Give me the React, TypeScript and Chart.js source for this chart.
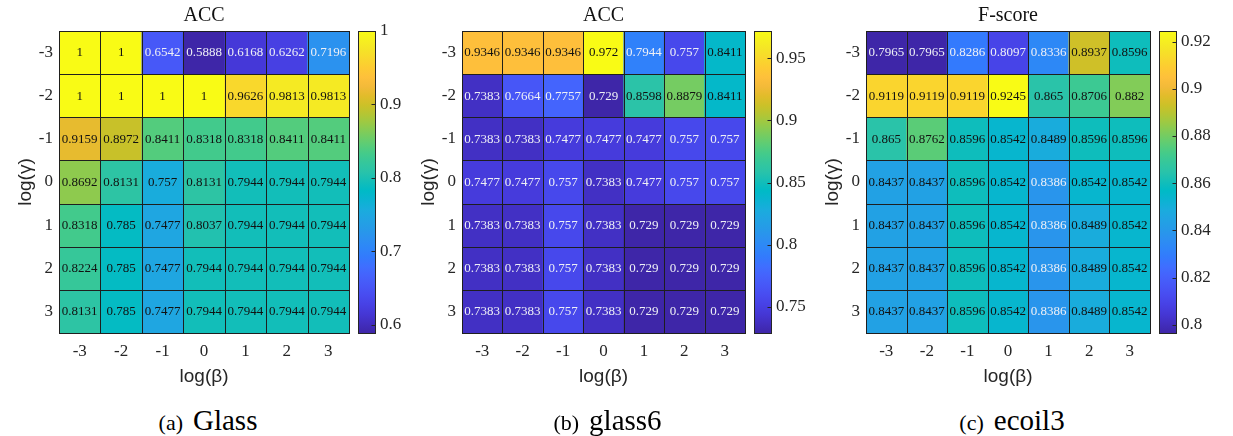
import React, { useEffect, useRef } from 'react';
import { Chart, registerables } from 'chart.js';

Chart.register(...registerables);

// ---------------- data ----------------
const betaLabels = ['-3', '-2', '-1', '0', '1', '2', '3'];
const gammaLabels = ['-3', '-2', '-1', '0', '1', '2', '3'];

// rows: log(gamma) = -3 .. 3 ; columns: log(beta) = -3 .. 3
const glassAcc = [
  [1, 1, 0.6542, 0.5888, 0.6168, 0.6262, 0.7196],
  [1, 1, 1, 1, 0.9626, 0.9813, 0.9813],
  [0.9159, 0.8972, 0.8411, 0.8318, 0.8318, 0.8411, 0.8411],
  [0.8692, 0.8131, 0.757, 0.8131, 0.7944, 0.7944, 0.7944],
  [0.8318, 0.785, 0.7477, 0.8037, 0.7944, 0.7944, 0.7944],
  [0.8224, 0.785, 0.7477, 0.7944, 0.7944, 0.7944, 0.7944],
  [0.8131, 0.785, 0.7477, 0.7944, 0.7944, 0.7944, 0.7944],
];

const glass6Acc = [
  [0.9346, 0.9346, 0.9346, 0.972, 0.7944, 0.757, 0.8411],
  [0.7383, 0.7664, 0.7757, 0.729, 0.8598, 0.8879, 0.8411],
  [0.7383, 0.7383, 0.7477, 0.7477, 0.7477, 0.757, 0.757],
  [0.7477, 0.7477, 0.757, 0.7383, 0.7477, 0.757, 0.757],
  [0.7383, 0.7383, 0.757, 0.7383, 0.729, 0.729, 0.729],
  [0.7383, 0.7383, 0.757, 0.7383, 0.729, 0.729, 0.729],
  [0.7383, 0.7383, 0.757, 0.7383, 0.729, 0.729, 0.729],
];

const ecoil3F = [
  [0.7965, 0.7965, 0.8286, 0.8097, 0.8336, 0.8937, 0.8596],
  [0.9119, 0.9119, 0.9119, 0.9245, 0.865, 0.8706, 0.882],
  [0.865, 0.8762, 0.8596, 0.8542, 0.8489, 0.8596, 0.8596],
  [0.8437, 0.8437, 0.8596, 0.8542, 0.8386, 0.8542, 0.8542],
  [0.8437, 0.8437, 0.8596, 0.8542, 0.8386, 0.8489, 0.8542],
  [0.8437, 0.8437, 0.8596, 0.8542, 0.8386, 0.8489, 0.8542],
  [0.8437, 0.8437, 0.8596, 0.8542, 0.8386, 0.8489, 0.8542],
];

const glassTicks = [0.6, 0.7, 0.8, 0.9, 1];
const glass6Ticks = [0.75, 0.8, 0.85, 0.9, 0.95];
const ecoil3Ticks = [0.8, 0.82, 0.84, 0.86, 0.88, 0.9, 0.92];

// ---------------- parula colormap (sampled) ----------------
const PARULA = [
  [0.2422, 0.1504, 0.6603], [0.2576, 0.1814, 0.7501], [0.2704, 0.2138, 0.8346], [0.2781, 0.2543, 0.8973],
  [0.2813, 0.2985, 0.9397], [0.2798, 0.3421, 0.9702], [0.271, 0.386, 0.9898], [0.2473, 0.4319, 0.9983],
  [0.2006, 0.4803, 0.9906], [0.1795, 0.5244, 0.9709], [0.1716, 0.5655, 0.9393], [0.1475, 0.6043, 0.9113],
  [0.1288, 0.6408, 0.891], [0.1009, 0.675, 0.8653], [0.0433, 0.7039, 0.8242], [0.0018, 0.7275, 0.7752],
  [0.077, 0.7468, 0.7224], [0.1609, 0.7635, 0.6671], [0.2061, 0.7808, 0.6065], [0.2695, 0.7951, 0.536],
  [0.3671, 0.8021, 0.4563], [0.4753, 0.8011, 0.3691], [0.5886, 0.7913, 0.2833], [0.6963, 0.775, 0.2075],
  [0.7945, 0.7554, 0.157], [0.8804, 0.7372, 0.165], [0.9523, 0.7284, 0.2237], [0.9971, 0.7513, 0.2309],
  [0.9938, 0.7974, 0.1974], [0.9748, 0.8467, 0.1726], [0.9601, 0.8963, 0.1507], [0.9642, 0.9437, 0.1216],
  [0.9769, 0.9839, 0.0805],
];
// positions of the samples along the map (every 8th of 256 entries, last at 255)
const PARULA_POS = PARULA.map((_, i) => Math.min(i * 8, 255) / 255);

function parulaRGB(t: number): number[] {
  const tt = Math.max(0, Math.min(1, t));
  let i = 0;
  while (i < PARULA_POS.length - 2 && tt > PARULA_POS[i + 1]) i++;
  const f = (tt - PARULA_POS[i]) / (PARULA_POS[i + 1] - PARULA_POS[i]);
  const a = PARULA[i];
  const b = PARULA[i + 1];
  return [0, 1, 2].map((k) => Math.round((a[k] + (b[k] - a[k]) * f) * 255));
}
function parula(t: number): string {
  const c = parulaRGB(t);
  return `rgb(${c[0]},${c[1]},${c[2]})`;
}

const SERIF = "'Liberation Serif', 'Times New Roman', serif";
const SANS = "'Liberation Sans', Arial, Helvetica, sans-serif";
const AXIS_COLOR = '#262626';

const Y_AXIS_W = 59;
const CB_AXIS_W = 61;
const CANVAS_H = 400;
const CB_GAP = 9;
const CB_W = 17;

type PanelProps = {
  left: number;
  heatW: number;
  values: number[][];
  ticks: number[];
  title: string;
  tag: string;
  name: string;
};

function Panel({ left, heatW, values, ticks, title, tag, name }: PanelProps) {
  const ref = useRef<HTMLCanvasElement | null>(null);
  const width = Y_AXIS_W + heatW + CB_AXIS_W;

  useEffect(() => {
    const canvas = ref.current;
    if (!canvas) return;
    const flat = values.flat();
    const vmin = Math.min(...flat);
    const vmax = Math.max(...flat);
    const norm = (v: number) => (v - vmin) / (vmax - vmin);

    const noPad = (s: any) => {
      s.paddingTop = 0;
      s.paddingBottom = 0;
      s.paddingLeft = 0;
      s.paddingRight = 0;
    };

    const cellPlugin = {
      id: 'cells',
      afterDatasetsDraw(chart: any) {
        const ctx = chart.ctx;
        ctx.save();
        ctx.strokeStyle = 'rgba(30,30,30,0.9)';
        ctx.lineWidth = 1;
        chart.data.datasets.forEach((_ds: any, di: number) => {
          const meta = chart.getDatasetMeta(di);
          meta.data.forEach((el: any) => {
            const p = el.getProps(['x', 'y', 'base', 'width'], true);
            const l = Math.round(p.x - p.width / 2) + 0.5;
            const r = Math.round(p.x + p.width / 2) + 0.5;
            const t = Math.round(Math.min(p.y, p.base)) + 0.5;
            const b = Math.round(Math.max(p.y, p.base)) + 0.5;
            ctx.strokeRect(l, t, r - l, b - t);
          });
        });
        ctx.font = `13px ${SERIF}`;
        ctx.textAlign = 'center';
        ctx.textBaseline = 'middle';
        chart.data.datasets.forEach((ds: any, di: number) => {
          const meta = chart.getDatasetMeta(di);
          meta.data.forEach((el: any, ci: number) => {
            const p = el.getProps(['x', 'y', 'base'], true);
            const v = ds.cellValues[ci];
            ctx.fillStyle = norm(v) < 0.35 ? '#eef0f6' : '#111111';
            ctx.fillText(String(v), p.x, (p.y + p.base) / 2 + 0.5);
          });
        });
        ctx.restore();
      },
    };

    const colorbarPlugin = {
      id: 'colorbar',
      afterDraw(chart: any) {
        const ctx = chart.ctx;
        const ca = chart.chartArea;
        const cb = chart.scales.cb;
        const x0 = ca.right + CB_GAP;
        const top = cb.getPixelForValue(vmax);
        const bot = cb.getPixelForValue(vmin);
        ctx.save();
        const g = ctx.createLinearGradient(0, bot, 0, top);
        PARULA.forEach((c, i) => {
          g.addColorStop(PARULA_POS[i], `rgb(${Math.round(c[0] * 255)},${Math.round(c[1] * 255)},${Math.round(c[2] * 255)})`);
        });
        ctx.fillStyle = g;
        ctx.fillRect(x0, top, CB_W, bot - top);
        ctx.strokeStyle = '#262626';
        ctx.lineWidth = 1;
        ctx.strokeRect(Math.round(x0) + 0.5, Math.round(top) + 0.5, CB_W, Math.round(bot - top));
        ticks.forEach((v) => {
          const y = Math.round(cb.getPixelForValue(v)) + 0.5;
          ctx.beginPath();
          ctx.moveTo(Math.round(x0) + CB_W - 3.5, y);
          ctx.lineTo(Math.round(x0) + CB_W + 0.5, y);
          ctx.stroke();
        });
        // heatmap outer border
        ctx.strokeStyle = 'rgba(30,30,30,0.9)';
        ctx.strokeRect(Math.round(ca.left) + 0.5, Math.round(ca.top) + 0.5, Math.round(ca.right - ca.left), Math.round(ca.bottom - ca.top));
        ctx.restore();
      },
    };

    const chart = new Chart(canvas, {
      type: 'bar',
      data: {
        labels: betaLabels,
        datasets: values.map((row, r) => ({
          label: gammaLabels[r],
          data: row.map(() => [r, r + 1]),
          cellValues: row,
          backgroundColor: row.map((v) => parula(norm(v))),
          borderWidth: 0,
          grouped: false,
          barPercentage: 1,
          categoryPercentage: 1,
          yAxisID: 'y',
        })) as any,
      },
      options: {
        animation: false,
        responsive: false,
        maintainAspectRatio: false,
        events: [],
        layout: { autoPadding: false, padding: { left: 0, right: 0, top: 0, bottom: 12 } },
        plugins: {
          legend: { display: false },
          tooltip: { enabled: false },
          title: {
            display: true,
            text: title,
            fullSize: false,
            color: '#111',
            font: { family: SERIF, size: 20, weight: 'normal' as any, lineHeight: 1.2 },
            padding: { top: 4, bottom: 3 },
          },
        },
        scales: {
          x: {
            type: 'category',
            offset: true,
            grid: { display: false, drawTicks: false },
            border: { display: false },
            ticks: { color: AXIS_COLOR, padding: 8, font: { family: SERIF, size: 17, lineHeight: 1.2 }, maxRotation: 0, autoSkip: false },
            title: {
              display: true,
              text: 'log(β)',
              color: AXIS_COLOR,
              font: { family: SANS, size: 19, lineHeight: 1.2 },
              padding: { top: 0, bottom: 0 },
            },
            afterFit: (s: any) => {
              s.height = 55;
              noPad(s);
            },
          },
          y: {
            type: 'linear',
            position: 'left',
            min: 0,
            max: 7,
            reverse: true,
            grid: { display: false, drawTicks: false },
            border: { display: false },
            afterBuildTicks: (s: any) => {
              s.ticks = gammaLabels.map((_, i) => ({ value: i + 0.5 }));
            },
            ticks: {
              color: AXIS_COLOR,
              padding: 6,
              autoSkip: false,
              font: { family: SERIF, size: 17, lineHeight: 1.2 },
              callback: (_v: any, i: number) => gammaLabels[i],
            },
            title: {
              display: true,
              text: 'log(γ)',
              color: AXIS_COLOR,
              font: { family: SANS, size: 19, lineHeight: 1.2 },
              padding: { top: 14, bottom: 0 },
            },
            afterFit: (s: any) => {
              s.width = Y_AXIS_W;
              noPad(s);
            },
          },
          cb: {
            type: 'linear',
            position: 'right',
            min: vmin,
            max: vmax,
            grid: { display: false, drawTicks: false },
            border: { display: false },
            afterBuildTicks: (s: any) => {
              s.ticks = ticks.map((v) => ({ value: v }));
            },
            ticks: {
              color: AXIS_COLOR,
              padding: 31,
              autoSkip: false,
              font: { family: SERIF, size: 17, lineHeight: 1.2 },
              callback: (v: any) => String(Math.round(Number(v) * 1000) / 1000),
            },
            afterFit: (s: any) => {
              s.width = CB_AXIS_W;
              noPad(s);
            },
          },
        } as any,
      },
      plugins: [cellPlugin, colorbarPlugin],
    } as any);

    return () => chart.destroy();
  }, [values, ticks, title]);

  const center = left + Y_AXIS_W + heatW / 2 + 4;

  return (
    <>
      <canvas
        ref={ref}
        width={width}
        height={CANVAS_H}
        style={{ position: 'absolute', left, top: 0, width, height: CANVAS_H }}
      />
      <div
        style={{
          position: 'absolute',
          left: center - 120,
          width: 240,
          top: 406,
          textAlign: 'center',
          fontFamily: SERIF,
          lineHeight: '29px',
          color: '#000',
          whiteSpace: 'nowrap',
        }}
      >
        <span style={{ fontSize: 22, marginRight: 10 }}>{tag}</span>
        <span style={{ fontSize: 29 }}>{name}</span>
      </div>
    </>
  );
}

export default function App() {
  return (
    <div
      style={{
        position: 'fixed',
        left: 0,
        top: 0,
        width: 1233,
        height: 436,
        background: '#ffffff',
        overflow: 'hidden',
      }}
    >
      <Panel left={0} heatW={290} values={glassAcc} ticks={glassTicks} title="ACC" tag="(a)" name="Glass" />
      <Panel left={403} heatW={283} values={glass6Acc} ticks={glass6Ticks} title="ACC" tag="(b)" name="glass6" />
      <Panel left={807} heatW={284} values={ecoil3F} ticks={ecoil3Ticks} title="F-score" tag="(c)" name="ecoil3" />
    </div>
  );
}
